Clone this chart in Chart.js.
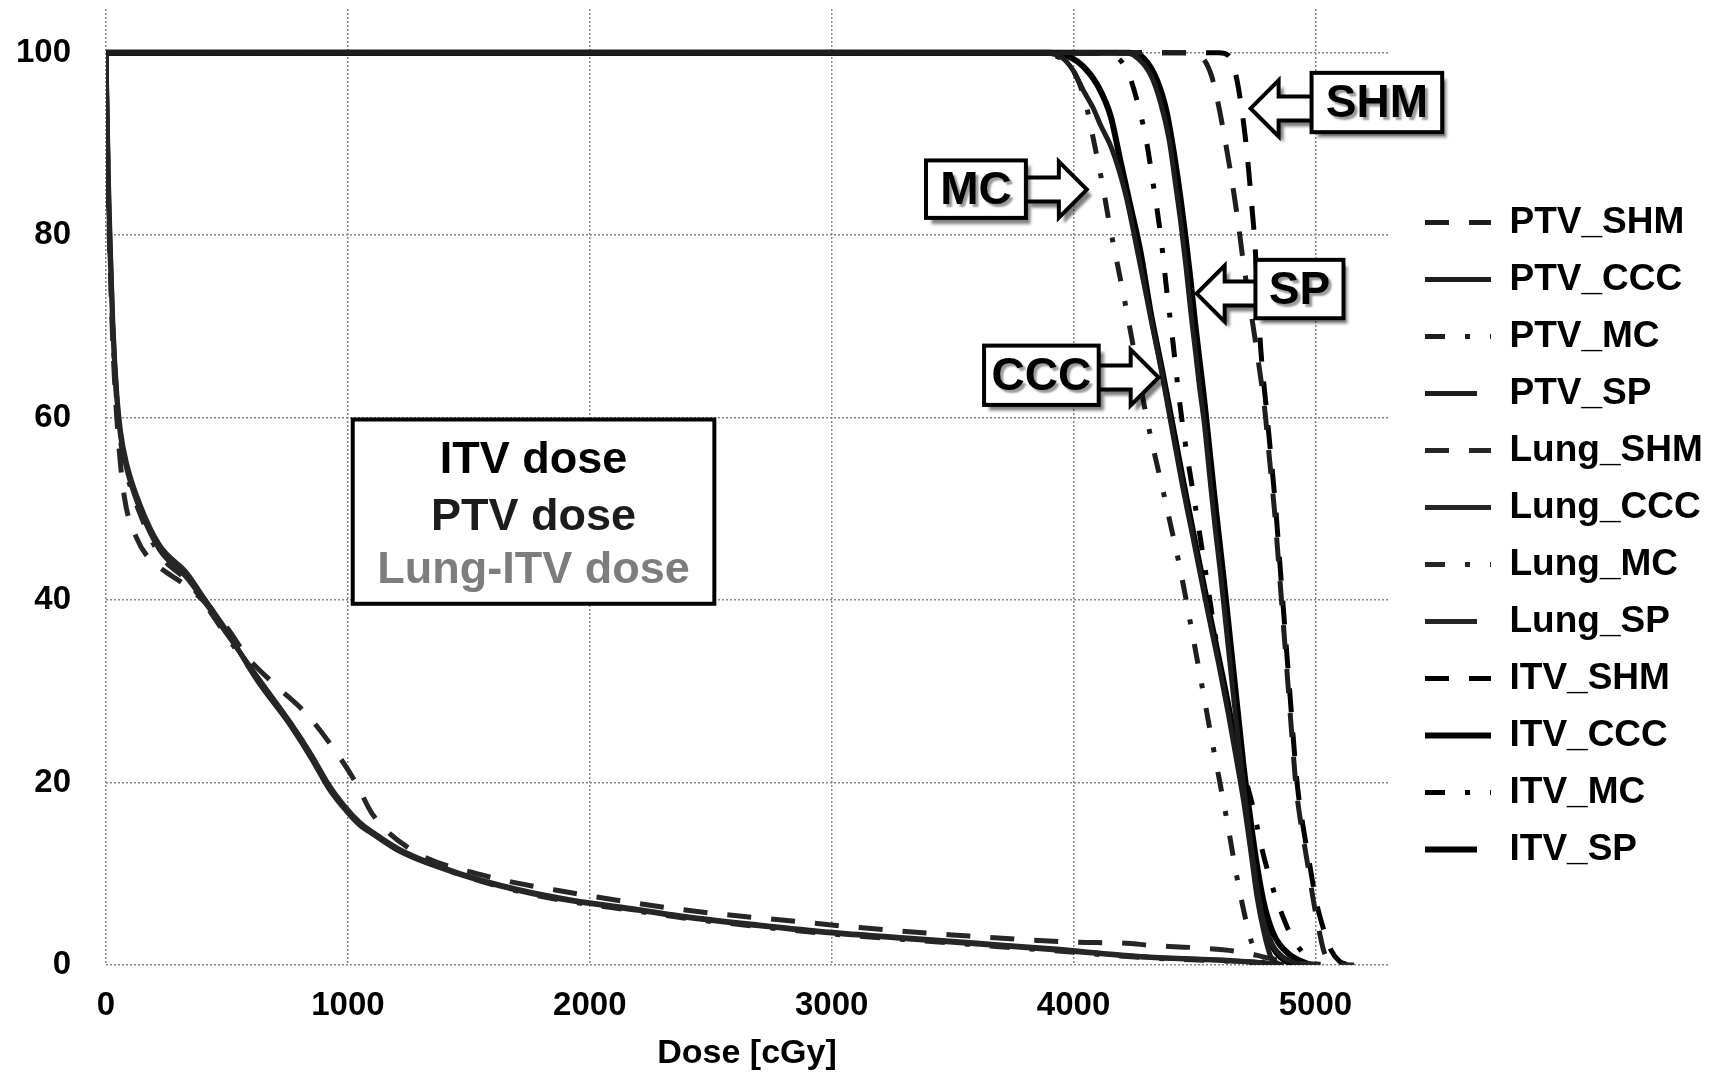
<!DOCTYPE html>
<html>
<head>
<meta charset="utf-8">
<script src="https://cdn.jsdelivr.net/npm/chart.js@4.4.0/dist/chart.umd.min.js"></script>
<style>
  html, body { margin: 0; padding: 0; background: #fff; }
  #wrap { width: 1715px; height: 1076px; position: relative; }
</style>
</head>
<body>
<div id="wrap"><canvas id="dvh"></canvas></div>
<script>
// tick labels
const xTicks = [0, 1000, 2000, 3000, 4000, 5000];
const yTicks = [0, 20, 40, 60, 80, 100];

// PTV curves (dose in cGy, volume in %)
const ptvShmDose = [0, 4450, 4500, 4540, 4570, 4595, 4628, 4657, 4682, 4702, 4728, 4755, 4790, 4810, 4830, 4848, 4864, 4880, 4893, 4906, 4920, 4940, 4965, 4992, 5015, 5035, 5060, 5090];
const ptvShmVol  = [100, 100, 99.8, 99.2, 97.5, 94.8, 90.2, 85.6, 81.1, 77, 72.5, 67.8, 61, 55.5, 50, 44, 38.5, 33, 28.5, 24, 19.5, 15.5, 11.5, 7, 3.8, 1.5, 0.3, 0];

const ptvCccDose = [0, 3850, 3950, 4000, 4044, 4080, 4113, 4158, 4215, 4269, 4323, 4364, 4395, 4447, 4504, 4558, 4600, 4640, 4677, 4704, 4732, 4759, 4787, 4814, 4842, 4870];
const ptvCccVol  = [100, 100, 99.5, 98, 95.7, 94, 92, 89.5, 84.5, 77.6, 70.4, 65, 60.5, 53, 45.5, 38.3, 33, 27.5, 22, 17.8, 12.6, 7.4, 3.6, 1, 0.2, 0];

const ptvMcDose = [0, 3800, 3900, 3960, 4000, 4045, 4090, 4120, 4150, 4180, 4210, 4240, 4270, 4300, 4335, 4370, 4400, 4430, 4460, 4490, 4520, 4550, 4580, 4610, 4640, 4670, 4700, 4730, 4760, 4790, 4820];
const ptvMcVol  = [100, 100, 99.8, 99.2, 98, 95, 89.5, 85.5, 81, 77, 73, 68.8, 64.5, 60.3, 56, 52, 48.4, 44.8, 40.8, 36.5, 32.2, 27.8, 23.5, 19.3, 15, 10.4, 6.4, 3, 1, 0.2, 0];

const ptvSpDose = [0, 4200, 4250, 4320, 4360, 4395, 4422, 4445, 4465, 4485, 4505, 4520, 4540, 4565, 4585, 4605, 4625, 4645, 4665, 4690, 4715, 4745, 4775, 4810, 4860, 4938];
const ptvSpVol  = [100, 100, 99.7, 97.5, 94.5, 90.5, 85.5, 81, 76.5, 71.5, 67, 63.5, 59.5, 53, 48, 43.5, 38.5, 33.5, 28.5, 22.5, 17, 11, 6, 2.8, 1, 0];

// Lung-ITV curves
const lungShmDose = [0, 3, 10, 18, 30, 50, 76, 125, 180, 236, 320, 400, 500, 583, 708, 833, 944, 1035, 1100, 1265, 1550, 1929, 2403, 2924, 3114, 3500, 4000, 4200, 4350, 4500, 4700, 4800, 4900, 5000, 5160];
const lungShmVol  = [100, 95, 84, 76, 67, 58, 51.3, 46.9, 44.5, 43.3, 41.8, 40, 37, 33.8, 30.5, 27.4, 23.6, 19.9, 16.6, 12.6, 9.9, 7.9, 6, 4.6, 4.1, 3.3, 2.5, 2.4, 2.1, 1.9, 1.4, 0.8, 0.3, 0.1, 0];

const lungDose    = [0, 3, 10, 18, 28, 45, 60, 85, 140, 222, 333, 403, 500, 625, 764, 850, 920, 980, 1050, 1100, 1218, 1455, 1700, 1929, 2200, 2403, 2700, 3000, 3300, 3600, 3900, 4300, 4650, 4800, 4860];
const lungCccVol  = [100, 95, 85, 78, 70, 62, 58, 54.5, 50, 45.5, 42.5, 40, 36.3, 31.6, 26.5, 23, 19.8, 17.6, 15.6, 14.6, 12.6, 10.1, 8.3, 7.1, 6.1, 5.3, 4.4, 3.6, 3, 2.4, 1.8, 0.9, 0.5, 0.2, 0];
const lungMcVol   = [100, 94, 84, 77, 69.5, 61.5, 57.5, 54, 49.5, 45, 42.2, 39.8, 36, 31.4, 26.3, 22.8, 19.6, 17.4, 15.4, 14.5, 12.5, 10, 8.1, 6.9, 5.9, 5.1, 4.2, 3.4, 2.8, 2.2, 1.6, 0.8, 0.4, 0.15, 0];
const lungSpVol   = [100, 95.5, 86, 78.5, 70.5, 62.5, 58.5, 55, 50.5, 46, 43, 40.3, 36.6, 31.2, 26.2, 22.6, 19.4, 17.3, 15.3, 14.4, 12.4, 10, 8.2, 7, 6, 5.2, 4.3, 3.5, 2.9, 2.3, 1.7, 0.85, 0.45, 0.2, 0];

// ITV curves
const itvShmDose = [0, 4600, 4640, 4670, 4698, 4719, 4735, 4750, 4762, 4774, 4797, 4817, 4836, 4853, 4869, 4885, 4898, 4911, 4926, 4947, 4973, 5003, 5035, 5065, 5100, 5140];
const itvShmVol  = [100, 100, 99.7, 97.7, 93.3, 88.5, 83.8, 79, 73, 67.5, 61, 55.5, 50, 44, 38.5, 33, 28.5, 24, 19.5, 15.5, 11.5, 7, 3.8, 1.6, 0.4, 0];

const itvCccDose = [0, 3900, 3980, 4044, 4100, 4154, 4195, 4237, 4278, 4319, 4364, 4400, 4450, 4505, 4560, 4603, 4643, 4680, 4708, 4738, 4768, 4800, 4840, 4880, 4920];
const itvCccVol  = [100, 100, 99.6, 98.4, 96.4, 93, 88, 83, 78, 71.5, 65.5, 60.5, 53.5, 46, 38.8, 33.3, 28, 22.3, 18, 12.8, 7.5, 3.5, 1.3, 0.4, 0];

const itvMcDose = [0, 4100, 4180, 4230, 4270, 4300, 4330, 4360, 4385, 4410, 4435, 4460, 4490, 4520, 4555, 4590, 4625, 4660, 4700, 4740, 4780, 4830, 4870, 4900, 4940, 4980, 5010];
const itvMcVol  = [100, 100, 99.5, 97.5, 94, 90.5, 85.5, 80, 74, 68.5, 62.5, 57.5, 52.5, 47.5, 41.5, 35.5, 30, 25.5, 21.5, 17.5, 12.6, 7.9, 5, 3.2, 1.6, 0.5, 0];

const itvSpDose = [0, 4230, 4290, 4345, 4385, 4415, 4440, 4462, 4482, 4502, 4522, 4540, 4560, 4582, 4603, 4622, 4642, 4662, 4682, 4702, 4725, 4752, 4785, 4825, 4890, 4980];
const itvSpVol  = [100, 100, 99.4, 97, 93.5, 89, 84.5, 80, 75.5, 70.5, 66, 62, 57, 51.5, 46.5, 42, 37, 32, 27, 22, 17.2, 12, 7, 3.5, 1.2, 0];

const FONT = "'Liberation Sans', Arial, sans-serif";
Chart.defaults.font.family = FONT;
Chart.defaults.color = '#000';

// line style per algorithm
const dashes = { SHM: [24, 20], CCC: [], MC: [20, 20, 5, 20], SP: [] };
// the SP sample in the legend is a shorter stroke than CCC
const legendDashes = { SHM: [24, 20], CCC: [], MC: [20, 20, 5, 20], SP: [52, 40] };

function series(label, dose, vol, color, width, algo) {
    return {
        label: label,
        algo: algo,
        data: dose.map((d, i) => ({ x: d, y: vol[i] })),
        borderColor: color,
        backgroundColor: color,
        borderWidth: width,
        borderDash: dashes[algo],
        pointRadius: 0,
        fill: false,
        cubicInterpolationMode: 'monotone'
    };
}

const PTV = '#1e1e1e', LUNG = '#262626', ITV = '#000000';

const datasets = [
    series('PTV_SHM', ptvShmDose, ptvShmVol, PTV, 5, 'SHM'),
    series('PTV_CCC', ptvCccDose, ptvCccVol, PTV, 5, 'CCC'),
    series('PTV_MC', ptvMcDose, ptvMcVol, PTV, 5, 'MC'),
    series('PTV_SP', ptvSpDose, ptvSpVol, PTV, 5, 'SP'),
    series('Lung_SHM', lungShmDose, lungShmVol, LUNG, 5, 'SHM'),
    series('Lung_CCC', lungDose, lungCccVol, LUNG, 5, 'CCC'),
    series('Lung_MC', lungDose, lungMcVol, LUNG, 5, 'MC'),
    series('Lung_SP', lungDose, lungSpVol, LUNG, 5, 'SP'),
    series('ITV_SHM', itvShmDose, itvShmVol, ITV, 5, 'SHM'),
    series('ITV_CCC', itvCccDose, itvCccVol, ITV, 6, 'CCC'),
    series('ITV_MC', itvMcDose, itvMcVol, ITV, 5, 'MC'),
    series('ITV_SP', itvSpDose, itvSpVol, ITV, 6, 'SP')
];

// callout boxes, placed in data units
const callouts = [
    { text: 'SHM', x1: 4984, x2: 5524, y1: 97.8, y2: 91.3, tipX: 4732, tipY: 93.9 },
    { text: 'MC',  x1: 3390, x2: 3803, y1: 88.2, y2: 81.9, tipX: 4055, tipY: 85.0 },
    { text: 'SP',  x1: 4752, x2: 5116, y1: 77.3, y2: 70.9, tipX: 4509, tipY: 73.6 },
    { text: 'CCC', x1: 3630, x2: 4104, y1: 67.9, y2: 61.4, tipX: 4352, tipY: 64.4 }
];
const doseBox = { x1: 1020, x2: 2515, y1: 59.8, y2: 39.6 };
const doseLines = [
    { text: 'ITV dose', color: '#000000', dy: 54 },
    { text: 'PTV dose', color: '#1c1c1c', dy: 111 },
    { text: 'Lung-ITV dose', color: '#7d7d7d', dy: 164 }
];

// legend labels: keep the dash pattern and width of each dataset
function legendLabels(chart) {
    const items = Chart.defaults.plugins.legend.labels.generateLabels(chart);
    items.forEach(it => {
        const ds = chart.data.datasets[it.datasetIndex];
        it.pointStyle = 'line';
        it.lineDash = legendDashes[ds.algo];
        it.lineDashOffset = 0;
        it.lineWidth = ds.borderWidth;
        it.strokeStyle = ds.borderColor;
        it.fillStyle = ds.borderColor;
        it.fontColor = '#000';
    });
    return items;
}

const legendShift = {
    id: 'legendShift',
    afterLayout(chart) {
        const lg = chart.legend;
        const pad = lg.options.labels.padding;
        const dx = chart.chartArea.right + 17 - lg.left;
        lg.left += dx;
        lg.right = chart.width;
        const cur = (lg.top + pad + lg.bottom - lg.columnSizes[0].height) / 2;
        const dy = chart.chartArea.top + 195 - cur;
        lg.top += dy; lg.bottom += dy;
    }
};

function arrowPath(ctx, x0, xt, yc, headLen, headHalf, shaftHalf) {
    const dir = xt > x0 ? 1 : -1;
    const xb = xt - dir * headLen;
    ctx.beginPath();
    ctx.moveTo(x0, yc - shaftHalf);
    ctx.lineTo(xb, yc - shaftHalf);
    ctx.lineTo(xb, yc - headHalf);
    ctx.lineTo(xt, yc);
    ctx.lineTo(xb, yc + headHalf);
    ctx.lineTo(xb, yc + shaftHalf);
    ctx.lineTo(x0, yc + shaftHalf);
}

const annotations = {
    id: 'annotations',
    afterDraw(chart) {
        const { ctx, scales: { x, y } } = chart;
        ctx.save();

        // ITV / PTV / Lung text box
        const bl = x.getPixelForValue(doseBox.x1), br = x.getPixelForValue(doseBox.x2);
        const bt = y.getPixelForValue(doseBox.y1), bb = y.getPixelForValue(doseBox.y2);
        ctx.fillStyle = '#fff';
        ctx.fillRect(bl, bt, br - bl, bb - bt);
        ctx.lineWidth = 4;
        ctx.strokeStyle = '#000';
        ctx.strokeRect(bl, bt, br - bl, bb - bt);
        ctx.font = 'bold 45px ' + FONT;
        ctx.textAlign = 'center';
        ctx.textBaseline = 'alphabetic';
        doseLines.forEach(l => {
            ctx.fillStyle = l.color;
            ctx.fillText(l.text, (bl + br) / 2, bt + l.dy);
        });

        // algorithm callouts with hollow arrows
        callouts.forEach(c => {
            const l = x.getPixelForValue(c.x1), r = x.getPixelForValue(c.x2);
            const t = y.getPixelForValue(c.y1), b = y.getPixelForValue(c.y2);
            const tx = x.getPixelForValue(c.tipX), ty = y.getPixelForValue(c.tipY);
            const x0 = tx > r ? r : l;

            ctx.save();
            ctx.shadowColor = 'rgba(0,0,0,0.5)';
            ctx.shadowOffsetX = 5; ctx.shadowOffsetY = 6; ctx.shadowBlur = 3;
            arrowPath(ctx, x0, tx, ty, 28, 28, 12);
            ctx.fillStyle = '#fff';
            ctx.fill();
            ctx.fillRect(l, t, r - l, b - t);
            ctx.restore();

            ctx.lineWidth = 4;
            ctx.strokeStyle = '#000';
            ctx.lineJoin = 'miter';
            arrowPath(ctx, x0, tx, ty, 28, 28, 12);
            ctx.stroke();
            ctx.fillStyle = '#fff';
            ctx.fillRect(l, t, r - l, b - t);
            ctx.strokeRect(l, t, r - l, b - t);

            ctx.save();
            ctx.shadowColor = 'rgba(0,0,0,0.4)';
            ctx.shadowOffsetX = 3; ctx.shadowOffsetY = 3; ctx.shadowBlur = 2;
            ctx.font = 'bold 46px ' + FONT;
            ctx.textAlign = 'center';
            ctx.textBaseline = 'middle';
            ctx.fillStyle = '#000';
            ctx.fillText(c.text, (l + r) / 2, (t + b) / 2 + 2);
            ctx.restore();
        });
        ctx.restore();
    }
};

new Chart(document.getElementById('dvh').getContext('2d'), {
    type: 'line',
    data: { datasets: datasets },
    options: {
        responsive: true,
        maintainAspectRatio: false,
        animation: false,
        events: [],
        layout: { padding: { top: 9, right: 37, bottom: 0, left: 0 } },
        scales: {
            x: {
                type: 'linear',
                min: 0,
                max: 5300,
                afterBuildTicks: s => { s.ticks = xTicks.map(v => ({ value: v })); },
                afterFit: s => { s.height = 111; },
                grid: { color: '#858585', lineWidth: 1.5, drawTicks: false },
                border: { display: false, dash: [2, 2] },
                ticks: { padding: 21, color: '#000', font: { size: 33, weight: 'bold' }, callback: v => String(v) },
                title: {
                    display: true,
                    text: 'Dose [cGy]',
                    color: '#000',
                    font: { size: 34, weight: 'bold' },
                    padding: { top: 0, bottom: 2 }
                }
            },
            y: {
                type: 'linear',
                min: 0,
                max: 104.8,
                afterBuildTicks: s => { s.ticks = yTicks.map(v => ({ value: v })); },
                afterFit: s => { s.width = 106; s.paddingTop = 0; s.paddingBottom = 0; },
                grid: { color: '#858585', lineWidth: 1.5, drawTicks: false },
                border: { display: false, dash: [2, 2] },
                ticks: { padding: 35, color: '#000', font: { size: 33, weight: 'bold' }, callback: v => String(v) }
            }
        },
        plugins: {
            legend: {
                position: 'right',
                maxWidth: 290,
                labels: {
                    usePointStyle: true,
                    pointStyle: 'line',
                    pointStyleWidth: 66,
                    padding: 20,
                    color: '#000',
                    font: { size: 37, weight: 'bold' },
                    generateLabels: legendLabels
                }
            },
            tooltip: { enabled: false }
        }
    },
    plugins: [legendShift, annotations]
});
</script>
</body>
</html>
